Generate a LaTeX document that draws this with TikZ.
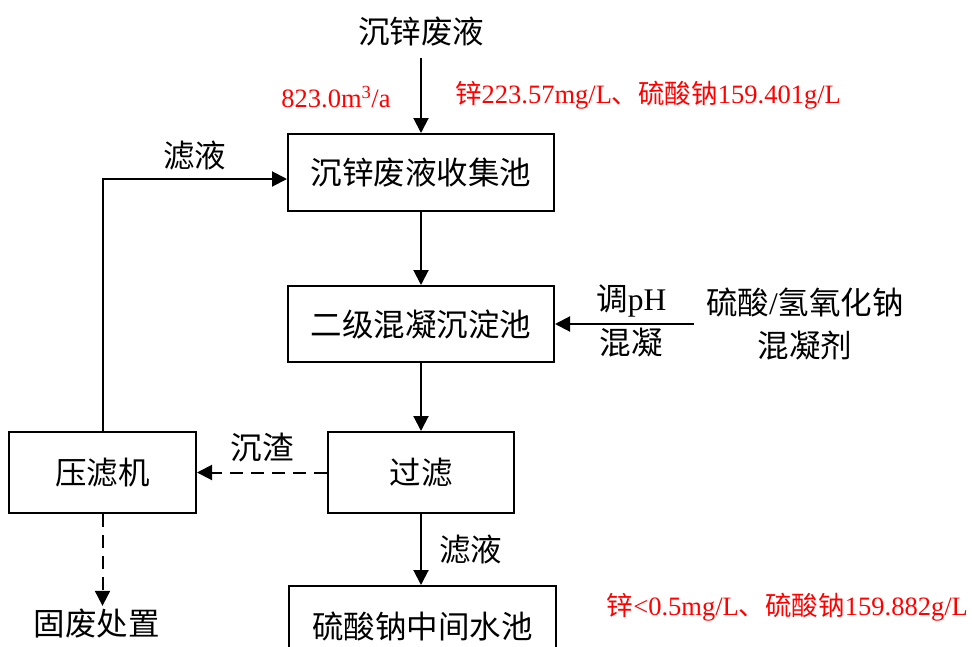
\documentclass[tikz,border=0pt]{standalone}
\usepackage{fontspec}
\setmainfont{Liberation Serif}
\newfontfamily\zhfont{Noto Sans CJK SC}
\usetikzlibrary{arrows.meta}
\newcommand{\zh}[1]{{\zhfont #1}}

\tikzset{
	box/.style={draw, line width=2pt, minimum width=266pt, minimum height=77pt, inner sep=0pt},
	flow/.style={line width=2pt, -{Triangle[length=15pt,width=15pt]}},
	slag/.style={flow, dash pattern=on 13pt off 8pt},
	note/.style={text=red, inner sep=0pt, font=\fontsize{26.5}{32}\selectfont},
}

\begin{document}
\begin{tikzpicture}[x=1pt, y=-1pt, font=\fontsize{31.5}{43}\selectfont]
	\useasboundingbox (0,0) rectangle (972,646);

	% main line
	\node (src) at (421,32) {\zh{沉锌废液}};
	\node[box] (pool1) at (421,172.5) {\zh{沉锌废液收集池}};
	\node[box, minimum height=76pt] (pool2) at (421,324) {\zh{二级混凝沉淀池}};
	\node[box, minimum width=186pt, minimum height=81pt] (filt) at (421,472.5) {\zh{过滤}};
	\node[box, minimum width=267pt, minimum height=80pt] (tank) at (422.5,626) {\zh{硫酸钠中间水池}};

	% side units
	\node[box, minimum width=187pt, minimum height=81pt] (press) at (102.5,472.5) {\zh{压滤机}};
	\node (waste) at (97,624) {\zh{固废处置}};
	\node[align=center, inner sep=12pt] (agent) at (805,324) {\zh{硫酸}/\zh{氢氧化钠}\\\zh{混凝剂}};

	% red notes
	\node[note] (flow) at (336,97) {823.0m\textsuperscript{3}/a};
	\node[note, anchor=west] (inconc) at (455,95) {\zh{锌}223.57mg/L\zh{、硫酸钠}159.401g/L};
	\node[note, anchor=east] (outconc) at (968,607) {\zh{锌}<0.5mg/L\zh{、硫酸钠}159.882g/L};

	% connectors
	\draw[flow, shorten <=8pt] (src) -- (pool1);
	\draw[flow] (pool1) -- (pool2);
	\draw[flow] (agent.west) -- (pool2.east)
		node[pos=0.45, above, yshift=2pt] {\zh{调}pH}
		node[pos=0.45, below] {\zh{混凝}};
	\draw[flow] (pool2) -- (filt);
	\draw[slag] (filt) -- (press) node[midway, above, yshift=6pt] {\zh{沉渣}};
	\draw[slag] (press.south) -- (press.south |- waste.north);
	\draw[flow] (filt) -- (filt |- tank.north) node[midway, right, xshift=14pt] {\zh{滤液}};
	\draw[flow] (press.north) |- ([yshift=-6.5pt]pool1.west) node[pos=0.75, above, yshift=4pt] {\zh{滤液}};
\end{tikzpicture}
\end{document}
